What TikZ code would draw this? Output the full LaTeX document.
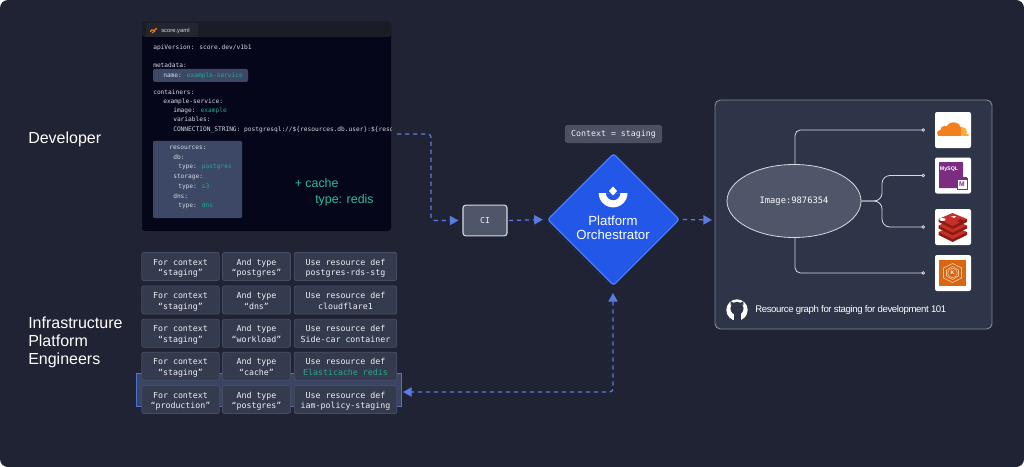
\documentclass[tikz,border=0pt]{standalone}
\usepackage{fontspec}
\setmainfont{Liberation Sans}
\newfontfamily\monof{DejaVu Sans Mono}
\newfontfamily\capf[LetterSpace=-4]{Liberation Sans}
\usetikzlibrary{arrows.meta,shapes.geometric,calc}
\newcommand{\celltwo}[2]{\rule{0pt}{7.3pt}#1\\#2\rule[-1.5pt]{0pt}{1.5pt}}
\definecolor{bg}{HTML}{1F2333}
\definecolor{codebg}{HTML}{05061A}
\definecolor{codehead}{HTML}{1A1C26}
\definecolor{codetab}{HTML}{24262F}
\definecolor{hl}{HTML}{3D4866}
\definecolor{codetxt}{HTML}{D6DAE3}
\definecolor{teal1}{HTML}{2AA88E}
\definecolor{teal2}{HTML}{2CBB9C}
\definecolor{cellfill}{HTML}{353B4F}
\definecolor{cellline}{HTML}{474E64}
\definecolor{celltxt}{HTML}{EEF0F5}
\definecolor{dashblue}{HTML}{5B7BE3}
\definecolor{bandline}{HTML}{5070D0}
\definecolor{bandfill}{HTML}{3A4566}
\definecolor{orchblue}{HTML}{2257E8}
\definecolor{orchline}{HTML}{4F7BF0}
\definecolor{panel}{HTML}{2E3549}
\definecolor{panelline}{HTML}{7F889C}
\definecolor{gray1}{HTML}{50566A}
\definecolor{ctxfill}{HTML}{4B5062}
\definecolor{redtop}{HTML}{C6302B}
\definecolor{redside}{HTML}{8E1B12}
\definecolor{cfdark}{HTML}{F38020}
\definecolor{cflight}{HTML}{FAAD3F}
\definecolor{mypurple}{HTML}{7B2D82}
\definecolor{eksor}{HTML}{D86613}
\definecolor{eksline}{HTML}{F3C9A0}
\tikzset{
  lbl/.style={text=white,font=\fontsize{12}{13.5}\selectfont,anchor=west,align=left,inner sep=0pt},
  code/.style={text=codetxt,font=\monof\fontsize{4.65}{5}\selectfont,anchor=base west,inner sep=0pt},
  hlbox/.style={fill=hl,rounded corners=1.5pt,inner sep=0pt},
  cell/.style={fill=cellfill,draw=cellline,line width=0.6pt,rounded corners=1.5pt,inner sep=0pt,
     minimum height=21pt,text=celltxt,align=center,font=\monof\fontsize{6.2}{8}\selectfont},
  flow/.style={draw=dashblue,line width=0.95pt,dash pattern=on 3.2pt off 2.8pt,rounded corners=2.5pt},
  flowtip/.style={flow,-{Triangle[length=6.5pt,width=7pt,fill=dashblue]}},
  flowboth/.style={flow,{Triangle[length=6.5pt,width=7pt,fill=dashblue]}-{Triangle[length=6.5pt,width=7pt,fill=dashblue]}},
  graphline/.style={draw=codetxt,line width=0.6pt,rounded corners=4pt,-{Circle[open,length=2.6pt,width=2.6pt,fill=panel]}},
  iconbox/.style={fill=white,rounded corners=1.5pt,inner sep=0pt,minimum width=27pt,minimum height=27pt},
}
\begin{document}
\begin{tikzpicture}[x=0.75pt,y=-0.75pt]
\useasboundingbox (0,0) rectangle (1024,467);
\fill[white] (0,0) rectangle (1024,467);
\fill[bg,rounded corners=6pt] (0,0) rectangle (1024,467);

% side labels
\node[lbl] (dev) at (28,139) {Developer};
\node[lbl] (infra) at (28,342.5) {Infrastructure\\Platform\\Engineers};

% code panel
\fill[codebg,rounded corners=2pt] (142,22) rectangle (391,231);
\fill[codehead,rounded corners=2pt] (142,22) rectangle (391,37);
\fill[codetab] (146,23) rectangle (198,37);
\draw[cfdark,line width=0.9pt,line cap=round] (150.5,31.5) .. controls (152,27.5) and (153.5,33) .. (156.5,28.5);
\draw[cfdark,line width=0.7pt,line cap=round] (152,33) -- (155,31);
\node[text=codetxt,font=\fontsize{4.4}{6}\selectfont,anchor=west,inner sep=0pt] (tabname) at (161,30.5) {score.yaml};
\node[hlbox,minimum width=71.25pt,minimum height=9.75pt] (namehl) at (200.5,75.5) {};
\node[hlbox,minimum width=66.75pt,minimum height=58pt] (reshl) at (197.5,179.5) {};
\node[code] (l1) at (153,50) {apiVersion: score.dev/v1b1};
\node[code] (l2) at (153,68) {metadata:};
\node[code] (l3) at (163,77.5) {name: \textcolor{teal1}{example-service}};
\node[code] (l4) at (153,94.5) {containers:};
\node[code] (l5) at (163,103.5) {example-service:};
\node[code] (l6) at (173,113) {image: \textcolor{teal1}{example}};
\node[code] (l7) at (173,122) {variables:};
\begin{scope}
\clip (142,22) rectangle (391,231);
\node[code] (l8) at (173,131.5) {CONNECTION\_STRING: postgresql://\$\{resources.db.user\}:\$\{resources.db.password\}};
\end{scope}
\node[code] (l9) at (169,149.5) {resources:};
\node[code] (l10) at (173,159.5) {db:};
\node[code] (l11) at (178,168.5) {type: \textcolor{teal1}{postgres}};
\node[code] (l12) at (173,178.5) {storage:};
\node[code] (l13) at (178,188) {type: \textcolor{teal1}{s3}};
\node[code] (l14) at (173,198) {dns:};
\node[code] (l15) at (178,207.5) {type: \textcolor{teal1}{dns}};
\node[text=teal2,font=\fontsize{9.3}{11}\selectfont,anchor=base west,inner sep=0pt] (cache) at (294.5,187) {+ cache};
\node[text=teal2,font=\fontsize{9.3}{11}\selectfont,anchor=base west,inner sep=0pt] (redistxt) at (315,203) {type: redis};

% table
\node[fill=bandfill,draw=bandline,line width=0.8pt,inner sep=0pt,minimum width=199pt,minimum height=25pt] (band) at (269,390) {};
\foreach \n/\y/\a/\b/\c/\d in {
 1/266.5/staging/postgres/Use resource def/postgres-rds-stg,
 2/300/staging/dns/Use resource def/cloudflare1,
 3/333.3/staging/workload/Use resource def/Side-car container,
 5/399.5/production/postgres/Use resource def/iam-policy-staging}{
  \node[cell,minimum width=58pt] (a\n) at (180.5,\y) {\celltwo{For context}{“\a”}};
  \node[cell,minimum width=51pt] (b\n) at (256.5,\y) {\celltwo{And type}{“\b”}};
  \node[cell,minimum width=77pt] (c\n) at (345.5,\y) {\celltwo{\c}{\d}};
}
\node[cell,minimum width=58pt] (a4) at (180.5,366.2) {\celltwo{For context}{“staging”}};
\node[cell,minimum width=51pt] (b4) at (256.5,366.2) {\celltwo{And type}{“cache”}};
\node[cell,minimum width=77pt] (c4) at (345.5,366.2) {\celltwo{Use resource def}{\textcolor{teal1}{Elasticache redis}}};

% CI, context, orchestrator
\node[fill=gray1,draw=codetxt,line width=0.8pt,rounded corners=2pt,inner sep=0pt,minimum width=33pt,minimum height=23pt,text=celltxt,font=\monof\fontsize{6.2}{8}\selectfont] (ci) at (485,220.5) {CI};
\node[fill=ctxfill,rounded corners=2pt,inner sep=0pt,minimum width=73pt,minimum height=13.5pt,text=celltxt,font=\monof\fontsize{6.2}{8}\selectfont] (ctx) at (613.5,134) {Context = staging};
\node[diamond,fill=orchblue,draw=orchline,line width=1pt,rounded corners=2pt,inner sep=0pt,minimum width=99pt,minimum height=99pt] (orch) at (613.5,219.5) {};
\fill[white] (613,186.5) -- (617,191) -- (613,195.5) -- (609,191) -- cycle;
\fill[white] (598.7,193) arc[start angle=180,end angle=360,radius=10.8pt] (620.5,193) arc[start angle=0,end angle=-180,radius=5.5pt] -- cycle;
\node[text=white,align=center,font=\fontsize{9.9}{10.5}\selectfont,inner sep=0pt] (orchtxt) at (613,228) {Platform\\Orchestrator};

% graph panel
\node[fill=panel,draw=panelline,line width=0.7pt,rounded corners=4pt,inner sep=0pt,minimum width=207.75pt,minimum height=171.75pt] (graph) at (853.5,214.5) {};
\node[ellipse,fill=gray1,draw=codetxt,line width=0.6pt,inner sep=0pt,minimum width=100.5pt,minimum height=54.75pt,text=white,font=\monof\fontsize{6.6}{8}\selectfont] (img) at (794,201) {Image:9876354};
\node[iconbox] (cf) at (953,130) {};
\node[iconbox] (my) at (953,175.5) {};
\node[iconbox] (re) at (953,227) {};
\node[iconbox] (ek) at (953,273) {};
\coordinate (cfin) at (925,130);
\coordinate (myin) at (925,175.5);
\coordinate (rein) at (925,227);
\coordinate (ekin) at (925,273);
\coordinate (topout) at (795,165);
\coordinate (botout) at (795,237.5);
\draw[graphline] (topout) |- (cfin);
\draw[graphline] (botout) |- (ekin);
\draw[graphline,rounded corners=6pt] (img.east) -- (882,201) |- (myin);
\draw[graphline,rounded corners=6pt] (img.east) -- (882,201) |- (rein);

% cloudflare
\begin{scope}
\clip (935,112) rectangle (968.5,135.6);
\fill[cflight] (962,132) circle[radius=3.8pt];
\fill[cflight] (958,134) rectangle (968.5,136);
\fill[cfdark] (953.5,130) circle[radius=5.8pt];
\fill[cfdark] (945,130.5) circle[radius=3.6pt];
\fill[cfdark] (940,133) circle[radius=2.2pt];
\fill[cfdark] (938,133) rectangle (960.5,136);
\end{scope}
% mysql
\fill[mypurple,rounded corners=0.5pt] (939,162) rectangle (963,188);
\node[text=white,font=\bfseries\fontsize{4}{5}\selectfont,inner sep=0pt] (mytxt) at (949,169) {MySQL};
\draw[mypurple,fill=white,line width=0.6pt] (957,178) rectangle (967,189);
\fill[mypurple] (957,177) rectangle (967,179.5);
\node[text=mypurple,font=\bfseries\fontsize{5}{5}\selectfont,inner sep=0pt] (mym) at (962,184) {M};
% redis
\foreach \dy in {13,6.5,0}{
  \fill[redside] (938.5,219+\dy) -- (938.5,222+\dy) -- (952.5,229+\dy) -- (967,222+\dy) -- (967,219+\dy) -- cycle;
  \fill[redtop] (938.5,219+\dy) -- (952.5,213+\dy) -- (967,219+\dy) -- (952.5,226+\dy) -- cycle;
}
\fill[white] (942.5,219.5) ellipse[x radius=2.4pt,y radius=1.1pt];
\fill[white] (951,216.5) -- (956,216) -- (954,218) -- cycle;
\fill[redside] (957,221) -- (961,219) -- (964,221) -- (960,222.5) -- cycle;
% eks
\fill[eksor] (939,260) rectangle (966,286);
\draw[eksline,line width=0.5pt] (952.5,263.5) -- (961.5,268) -- (961.5,278) -- (952.5,282.5) -- (943.5,278) -- (943.5,268) -- cycle;
\draw[eksline,line width=0.4pt] (952.5,266.5) -- (958.5,270) -- (958.5,276) -- (952.5,279.5) -- (946.5,276) -- (946.5,270) -- cycle;
\draw[eksline,line width=0.4pt] (952.5,273) circle[radius=3.6pt];
\node[text=white,font=\bfseries\fontsize{4}{4}\selectfont,inner sep=0pt] (ektxt) at (952.5,273) {K};

% github
\fill[white] (737,310) circle[radius=8pt];
\fill[panel] (737,308.5) circle[radius=4.9pt];
\fill[panel] (730.5,305) -- (730.8,301.5) -- (735,303.5) -- cycle;
\fill[panel] (743.5,305) -- (743.2,301.5) -- (739,303.5) -- cycle;
\fill[panel] (733.5,312) rectangle (740.5,321);
\fill[white] (731,315.5) -- (733.5,316.5) -- (733.5,318.5) -- (731,317) -- cycle;
\node[text=white,font=\capf\fontsize{7.2}{9}\selectfont,anchor=west,inner sep=0pt] (cap) at (755,310) {Resource graph for staging for development 101};

% connectors
\coordinate (devout) at (397,134);
\coordinate (orchin) at (712,220);
\coordinate (bandin) at (403,392);
\coordinate (orchbot) at (613,293);
\draw[flowtip,shorten >=3pt] (devout) -- (431,134) |- (ci.west);
\draw[flowtip,shorten >=3pt,shorten <=1pt] (ci.east) -- (orch.west);
\draw[flowtip,shorten <=2pt] (orch.east) -- (orchin);
\draw[flowboth] (orchbot) |- (bandin);
\end{tikzpicture}
\end{document}
